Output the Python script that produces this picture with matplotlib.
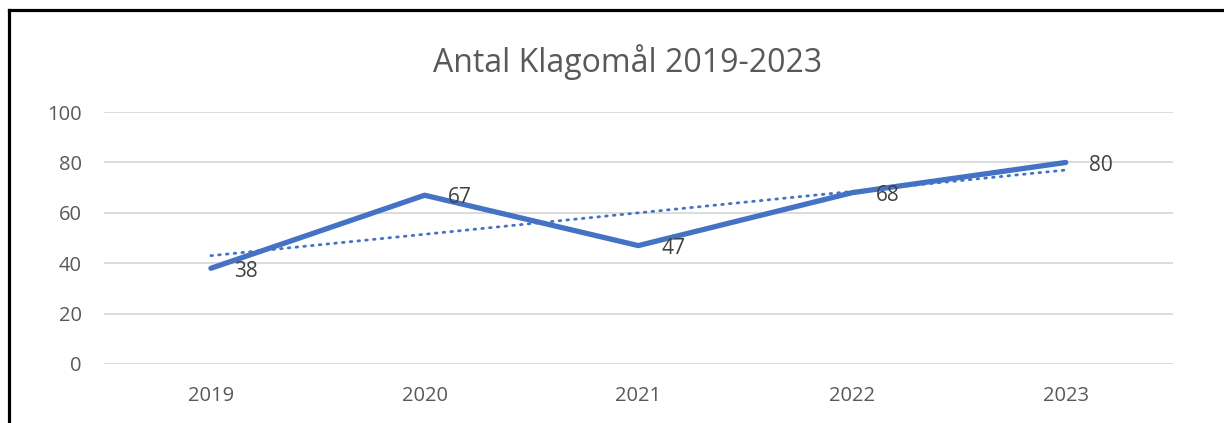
import numpy as np
import matplotlib
matplotlib.use('Agg')
import matplotlib.pyplot as plt
from matplotlib.lines import Line2D

plt.rcParams['font.family'] = ['Open Sans', 'DejaVu Sans']

years = ['2019', '2020', '2021', '2022', '2023']
klagomal = [38, 67, 47, 68, 80]

x = np.arange(len(years))
# linear trendline like in Excel
k, m = np.polyfit(x, klagomal, 1)
trend = k * x + m

fig = plt.figure(figsize=(12.24, 4.23), dpi=100)
ax = fig.add_axes([0.085, 0.1395, 0.873, 0.5955])

ax.plot(x, klagomal, color='#4472C4', linewidth=3.8, solid_capstyle='round', zorder=3)
ax.plot(x, trend, color='#4472C4', linewidth=2.0, linestyle=(0, (0.6, 2.2)),
        dash_capstyle='round', zorder=2)

for xi, yi in zip(x, klagomal):
    ax.annotate(str(yi), (xi, yi), xytext=(17, -2), textcoords='offset points',
                ha='left', va='center', fontsize=15, color='#404040')

ax.set_xlim(-0.5, len(years) - 0.5)
ax.set_ylim(0, 100)
ax.set_yticks(range(0, 101, 20))
ax.set_xticks(x)
ax.set_xticklabels(years)
ax.tick_params(axis='both', length=0, labelsize=14.5, colors='#595959')
ax.tick_params(axis='y', pad=16)
ax.tick_params(axis='x', pad=16)
ax.grid(axis='y', color='#D9D9D9', linewidth=1.3)
ax.set_axisbelow(True)
for s in ax.spines.values():
    s.set_visible(False)

fig.text(0.513, 0.853, 'Antal Klagomål 2019-2023', ha='center', va='center',
         fontsize=23, color='#595959')

# chart frame (only left and top visible in the crop)
fig.add_artist(Line2D([0.0072, 0.0072], [0, 0.976], transform=fig.transFigure,
                      color='black', linewidth=2.3))
fig.add_artist(Line2D([0.0072, 1], [0.976, 0.976], transform=fig.transFigure,
                      color='black', linewidth=2.3))

fig.savefig('out.png', dpi=100)
